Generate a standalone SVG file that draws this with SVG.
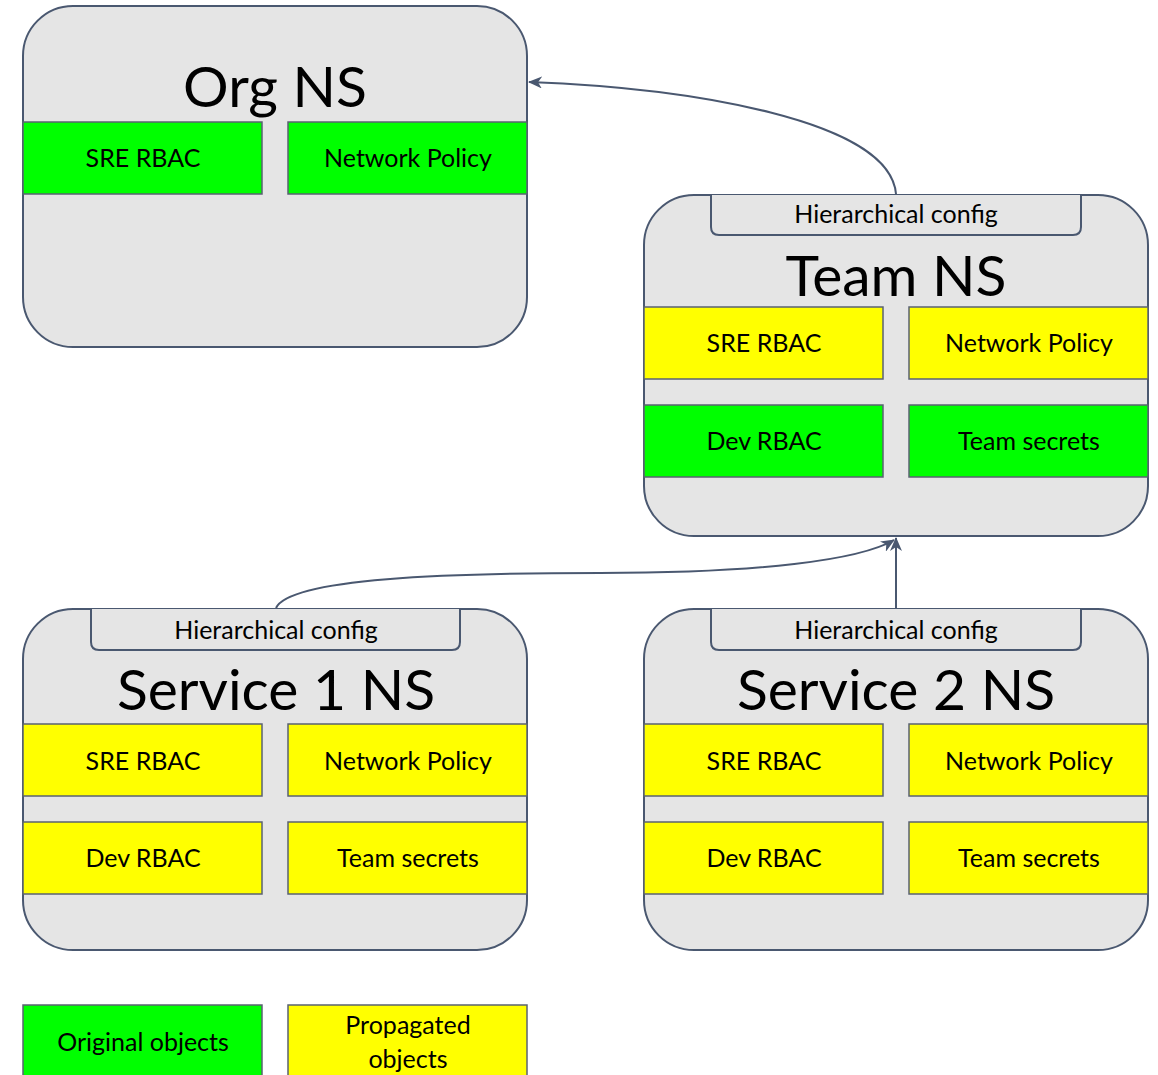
<svg xmlns="http://www.w3.org/2000/svg" width="1158" height="1075" viewBox="0 0 1158 1075">
<style>
.ns{fill:#e5e5e5;stroke:#4a5870;stroke-width:2}
.tab{fill:#e5e5e5;stroke:#4a5870;stroke-width:2}
.g{fill:#00ff00;stroke:#5a6272;stroke-width:1.5}
.y{fill:#ffff00;stroke:#5a6272;stroke-width:1.5}
text{font-family:Lato,"Open Sans","Liberation Sans",sans-serif;fill:#000;text-anchor:middle}
.title{font-size:57px}
.lbl{font-size:25px}
.tl{font-size:25px}
.conn{fill:none;stroke:#4a5870;stroke-width:2}
</style>
<defs>
<marker id="ah" viewBox="0 0 14 12" refX="13" refY="6" markerWidth="14" markerHeight="12" markerUnits="userSpaceOnUse" orient="auto">
<path d="M0,0 L14,6 L0,12 L4,6 z" fill="#4a5870"/>
</marker>
</defs>
<g id="org">
<rect class="ns" x="23" y="6" width="504" height="341" rx="50"/>
<text class="title" x="275" y="107">Org NS</text>
<rect class="g" x="23" y="122" width="239" height="72"/>
<text class="lbl" x="143" y="167">SRE RBAC</text>
<rect class="g" x="288" y="122" width="239" height="72"/>
<text class="lbl" x="408" y="167">Network Policy</text>
</g>
<g id="team">
<rect class="ns" x="644" y="195" width="504" height="341" rx="50"/>
<path class="tab" d="M711,195 L711,227 Q711,235 719,235 L1073,235 Q1081,235 1081,227 L1081,195"/>
<text class="tl" x="896" y="223">Hierarchical config</text>
<text class="title" x="896" y="296">Team NS</text>
<rect class="y" x="644" y="307" width="239" height="72"/>
<text class="lbl" x="764" y="352">SRE RBAC</text>
<rect class="y" x="909" y="307" width="239" height="72"/>
<text class="lbl" x="1029" y="352">Network Policy</text>
<rect class="g" x="644" y="405" width="239" height="72"/>
<text class="lbl" x="764" y="450">Dev RBAC</text>
<rect class="g" x="909" y="405" width="239" height="72"/>
<text class="lbl" x="1029" y="450">Team secrets</text>
</g>
<g id="service1">
<rect class="ns" x="23" y="609" width="504" height="341" rx="50"/>
<path class="tab" d="M91,609 L91,642 Q91,650 99,650 L452,650 Q460,650 460,642 L460,609"/>
<text class="tl" x="276" y="639">Hierarchical config</text>
<text class="title" x="276" y="710">Service 1 NS</text>
<rect class="y" x="23" y="724" width="239" height="72"/>
<text class="lbl" x="143" y="770">SRE RBAC</text>
<rect class="y" x="288" y="724" width="239" height="72"/>
<text class="lbl" x="408" y="770">Network Policy</text>
<rect class="y" x="23" y="822" width="239" height="72"/>
<text class="lbl" x="143" y="867">Dev RBAC</text>
<rect class="y" x="288" y="822" width="239" height="72"/>
<text class="lbl" x="408" y="867">Team secrets</text>
</g>
<g id="service2">
<rect class="ns" x="644" y="609" width="504" height="341" rx="50"/>
<path class="tab" d="M711,609 L711,642 Q711,650 719,650 L1073,650 Q1081,650 1081,642 L1081,609"/>
<text class="tl" x="896" y="639">Hierarchical config</text>
<text class="title" x="896" y="710">Service 2 NS</text>
<rect class="y" x="644" y="724" width="239" height="72"/>
<text class="lbl" x="764" y="770">SRE RBAC</text>
<rect class="y" x="909" y="724" width="239" height="72"/>
<text class="lbl" x="1029" y="770">Network Policy</text>
<rect class="y" x="644" y="822" width="239" height="72"/>
<text class="lbl" x="764" y="867">Dev RBAC</text>
<rect class="y" x="909" y="822" width="239" height="72"/>
<text class="lbl" x="1029" y="867">Team secrets</text>
</g>
<g id="legend-original">
<rect class="g" x="23" y="1005" width="239" height="80"/>
<text class="lbl" x="143" y="1051">Original objects</text>
</g>
<g id="legend-propagated">
<rect class="y" x="288" y="1005" width="239" height="80"/>
<text class="lbl" x="408" y="1034">Propagated</text>
<text class="lbl" x="408" y="1068">objects</text>
</g>
<g id="connectors">
<path class="conn" marker-end="url(#ah)" d="M896,194 C890,120 690,88 529,82"/>
<path class="conn" marker-end="url(#ah)" d="M276,608 C290,578 450,573 600,573 C760,573 860,560 894,540"/>
<path class="conn" marker-end="url(#ah)" d="M896,608 L896,538"/>
</g>
</svg>
